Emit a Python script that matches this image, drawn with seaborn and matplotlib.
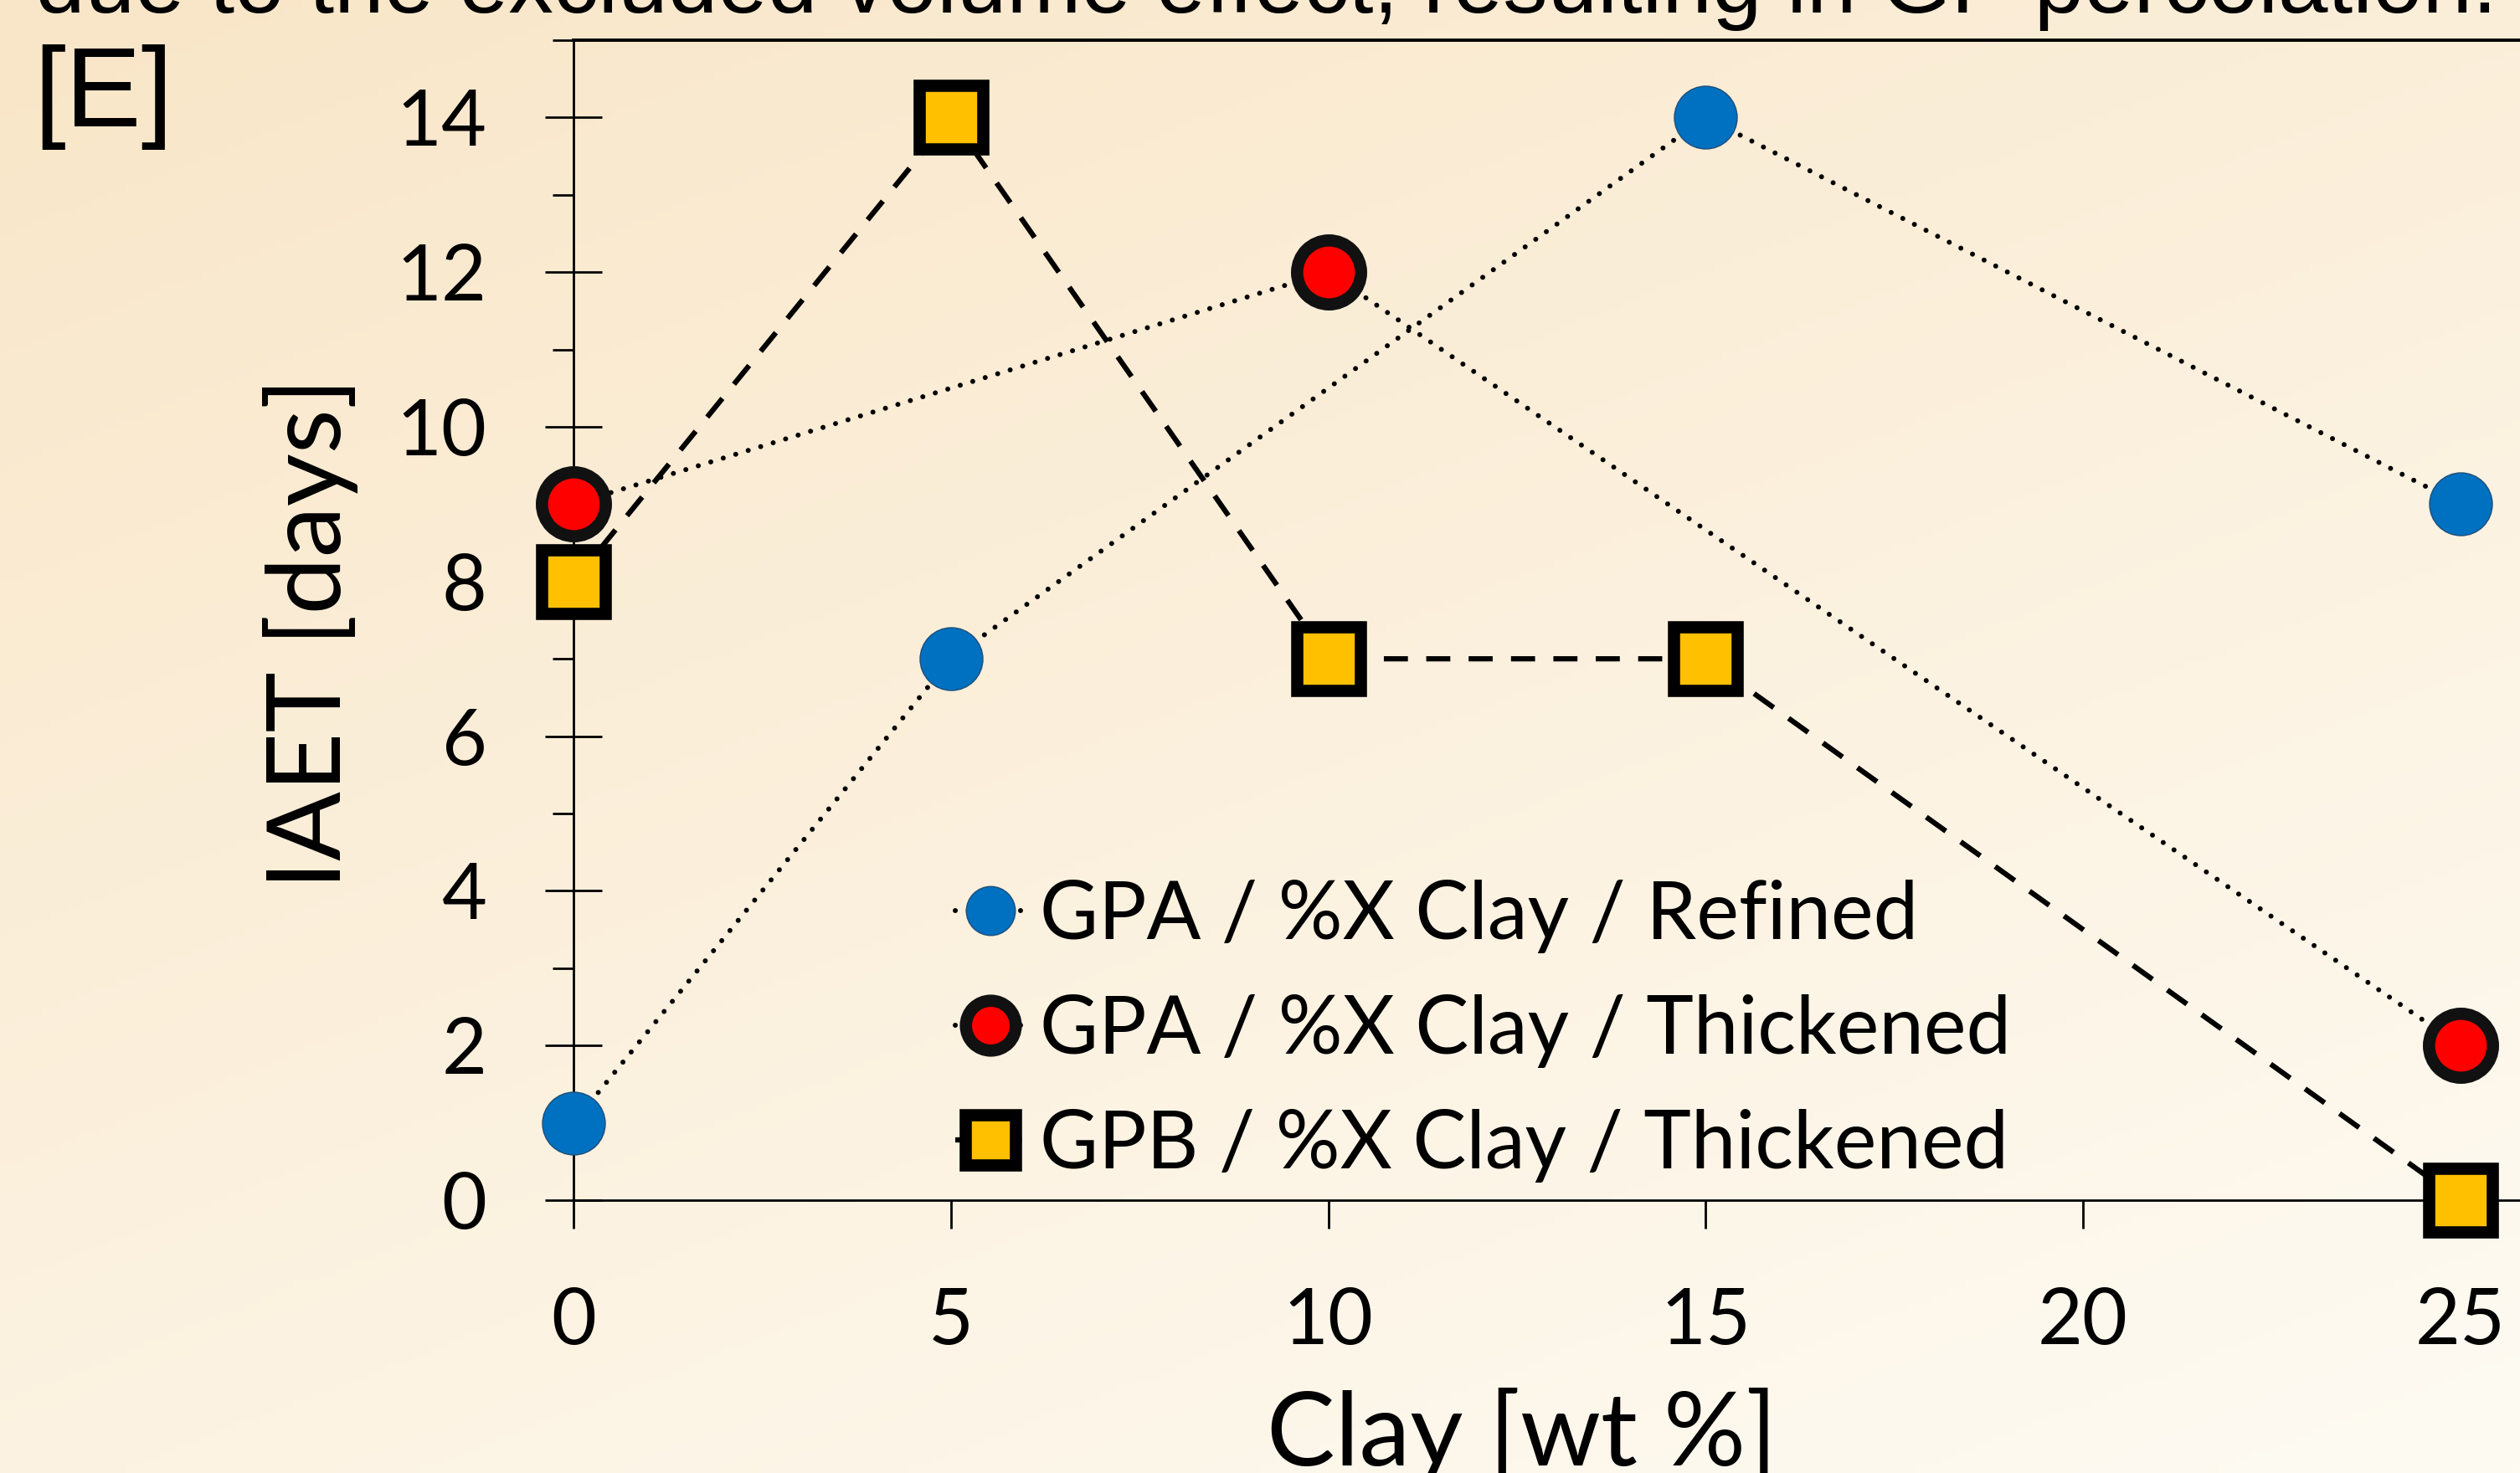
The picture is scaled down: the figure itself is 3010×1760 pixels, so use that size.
import numpy as np
import pandas as pd
import seaborn as sns
import matplotlib.pyplot as plt

# values
clay_refined = [0, 5, 15, 25]
iaet_refined = [1, 7, 14, 9]
clay_thick_a = [0, 10, 25]
iaet_thick_a = [9, 12, 2]
clay_thick_b = [0, 5, 10, 15, 25]
iaet_thick_b = [8, 14, 7, 7, 0]

labels = ['GPA / %X Clay / Refined',
          'GPA / %X Clay / Thickened',
          'GPB / %X Clay / Thickened']
y_ticks = [0, 2, 4, 6, 8, 10, 12, 14]
x_ticks = [0, 5, 10, 15, 20, 25]

sns.set_style('ticks')
plt.rcParams['font.family'] = ['Lato', 'DejaVu Sans']
plt.rcParams['text.color'] = 'black'
plt.rcParams['axes.labelcolor'] = 'black'
plt.rcParams['axes.edgecolor'] = 'black'

fig = plt.figure(figsize=(30.1, 17.6), dpi=100)

# slide background gradient
bg = fig.add_axes([0, 0, 1, 1], zorder=-10)
gx, gy = np.meshgrid(np.linspace(0, 1, 300), np.linspace(0, 1, 200))
t = np.clip((gx * 0.6 + gy * 0.9) / 1.5, 0, 1)[..., None]
c0 = np.array([249, 230, 200]) / 255
c1 = np.array([254, 251, 243]) / 255
bg.imshow(c0 * (1 - t) + c1 * t, aspect='auto', extent=[0, 1, 0, 1])
bg.axis('off')

ax = fig.add_axes([0.2276, 0.1852, 0.7724, 0.7876])
ax.set_facecolor('none')

df_r = pd.DataFrame({'clay': clay_refined, 'iaet': iaet_refined})
df_a = pd.DataFrame({'clay': clay_thick_a, 'iaet': iaet_thick_a})
df_b = pd.DataFrame({'clay': clay_thick_b, 'iaet': iaet_thick_b})

dot = (0, (0.01, 2.6))
sns.lineplot(data=df_r, x='clay', y='iaet', ax=ax, errorbar=None, color='black',
             lw=4.3, linestyle=dot, dash_capstyle='round', marker='o', ms=54,
             markerfacecolor='#0070C0', markeredgecolor='#1F4E79', mew=1,
             label=labels[0], clip_on=False, zorder=5)
sns.lineplot(data=df_a, x='clay', y='iaet', ax=ax, errorbar=None, color='black',
             lw=4.3, linestyle=dot, dash_capstyle='round', marker='o', ms=55,
             markerfacecolor='#FF0000', markeredgecolor='#111111', mew=10.5,
             label=labels[1], clip_on=False, zorder=6)
sns.lineplot(data=df_b, x='clay', y='iaet', ax=ax, errorbar=None, color='black',
             lw=4.5, linestyle=(0, (4.6, 3.5)), marker='s', ms=55,
             markerfacecolor='#FFC000', markeredgecolor='black', mew=10.5,
             label=labels[2], clip_on=False, zorder=7)

ax.set_xlim(0, 25.79)
ax.set_ylim(0, 15)
ax.set_xticks(x_ticks)
ax.set_yticks(y_ticks)
ax.set_yticks(np.arange(1, 16, 2), minor=True)

for s in ['left', 'bottom']:
    ax.spines[s].set_linewidth(2)
ax.spines['top'].set_linewidth(2.8)
ax.spines['right'].set_visible(False)
ax.spines['left'].set_zorder(1)

ax.tick_params(axis='y', which='major', direction='inout', length=49, width=2,
               pad=50, labelsize=67, colors='black')
ax.tick_params(axis='y', which='minor', direction='out', length=18, width=2,
               colors='black')
ax.tick_params(axis='x', which='major', direction='out', length=24.5, width=2,
               pad=50, labelsize=67, colors='black')

ax.set_xlabel('Clay [wt %]', fontsize=88)
ax.set_ylabel('IAET [days]', fontsize=88)
ax.xaxis.set_label_coords(0.4873, -0.1616)
ax.yaxis.set_label_coords(-0.1105, 0.4885)

leg = ax.legend(loc='upper left', bbox_to_anchor=(1141 / 3010, 1 - 1051 / 1760),
                bbox_transform=fig.transFigure, frameon=False, fontsize=69,
                markerscale=0.78, handlelength=0.88, handletextpad=0.17,
                labelspacing=0.51, borderpad=0, borderaxespad=0)

fig.text(42 / 3010, 1 - 15 / 1760,
         'due to the excluded volume effect, resulting in GP percolation.',
         fontsize=77, family='Liberation Sans', va='baseline', color='black')
fig.text(40 / 3010, 1 - 151 / 1760, '[E]', fontsize=98,
         family='Liberation Sans', va='baseline', color='black')

fig.savefig('out.png', dpi=100)
